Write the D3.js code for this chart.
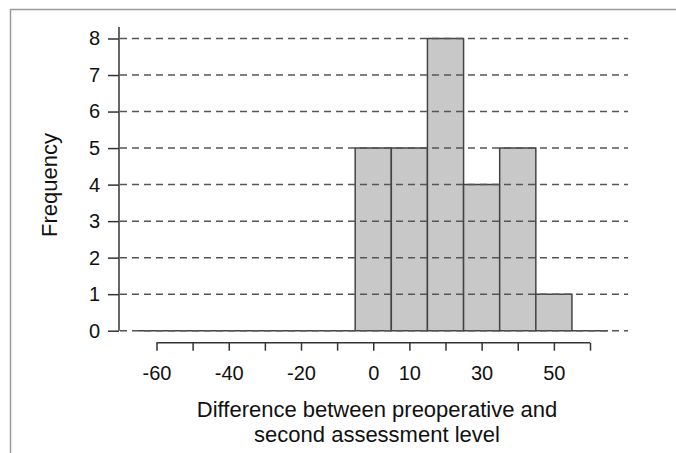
<!DOCTYPE html>
<html>
<head>
  <meta charset="utf-8">
  <title>Histogram</title>
  <script src="https://cdn.jsdelivr.net/npm/d3@7"></script>
  <style>
    body { margin: 0; background: #fff; }
    svg { display: block; font-family: "Liberation Sans", Arial, Helvetica, sans-serif; }
    .frame { fill: none; stroke: #9a9a9a; stroke-width: 1.5; }
    .grid line { stroke: #555; stroke-width: 1.5; stroke-dasharray: 7, 5; }
    .bin { fill: #c8c8c8; stroke: #444; stroke-width: 1.5; }
    .axis path, .axis line { stroke: #333; stroke-width: 1.5; fill: none; }
    .axis text { fill: #111; font-size: 20px; }
    .title { fill: #111; font-size: 22px; }
  </style>
</head>
<body>
<script>
  // bin edges (lower bound) and counts
  var binStart = [-65, -55, -45, -35, -25, -15, -5, 5, 15, 25, 35, 45, 55];
  var binWidth = 10;
  var counts   = [0, 0, 0, 0, 0, 0, 5, 5, 8, 4, 5, 1, 0];

  var xTicks = [-60, -50, -40, -30, -20, -10, 0, 10, 20, 30, 40, 50, 60];
  var xLabels = [-60, -40, -20, 0, 10, 30, 50];
  var yTicks = [0, 1, 2, 3, 4, 5, 6, 7, 8];

  var width = 676, height = 453;

  var x = d3.scaleLinear().domain([-60, 60]).range([156.5, 590]);
  var y = d3.scaleLinear().domain([0, 8]).range([330.7, 38.5]);

  var svg = d3.select("body").append("svg")
      .attr("width", width)
      .attr("height", height);

  // outer frame (top and left only)
  svg.append("path")
      .attr("class", "frame")
      .attr("d", "M10.5," + height + "V9.5H" + width);

  // histogram bins
  svg.append("g")
      .selectAll("path")
      .data(binStart)
      .join("path")
      .attr("class", "bin")
      .attr("d", function(d, i) {
        var x0 = x(d), x1 = x(d + binWidth), y0 = y(0), y1 = y(counts[i]);
        if (counts[i] === 0) return "M" + x0 + "," + y0 + "H" + x1;
        return "M" + x0 + "," + y0 + "V" + y1 + "H" + x1 + "V" + y0 + "Z";
      });

  // dashed grid lines on top of bars
  svg.append("g")
      .attr("class", "grid")
      .selectAll("line")
      .data(yTicks)
      .join("line")
      .attr("x1", 120)
      .attr("x2", 628)
      .attr("y1", function(d) { return y(d); })
      .attr("y2", function(d) { return y(d); });

  // y axis
  var yAxis = d3.axisLeft(y)
      .tickValues(yTicks)
      .tickSize(11)
      .tickPadding(8)
      .tickSizeOuter(0);

  var gy = svg.append("g")
      .attr("class", "axis")
      .attr("transform", "translate(119,0)")
      .call(yAxis);
  gy.select(".domain").attr("d", "M0," + y(0) + "V27");

  // x axis, offset below plot
  var xAxis = d3.axisBottom(x)
      .tickValues(xTicks)
      .tickSize(8)
      .tickPadding(15)
      .tickSizeOuter(0)
      .tickFormat(function(d) { return xLabels.indexOf(d) >= 0 ? d : ""; });

  var gx = svg.append("g")
      .attr("class", "axis")
      .attr("transform", "translate(0,342.7)")
      .call(xAxis);
  gx.select(".domain").attr("d", "M" + x(-60) + ",0H" + x(60));
  gx.selectAll(".tick text").attr("dy", "0.71em");

  // axis titles
  svg.append("text")
      .attr("class", "title")
      .attr("transform", "translate(57,185) rotate(-90)")
      .attr("text-anchor", "middle")
      .text("Frequency");

  svg.append("text")
      .attr("class", "title")
      .attr("x", 377)
      .attr("y", 417)
      .attr("text-anchor", "middle")
      .text("Difference between preoperative and");

  svg.append("text")
      .attr("class", "title")
      .attr("x", 377)
      .attr("y", 442)
      .attr("text-anchor", "middle")
      .text("second assessment level");
</script>
</body>
</html>
